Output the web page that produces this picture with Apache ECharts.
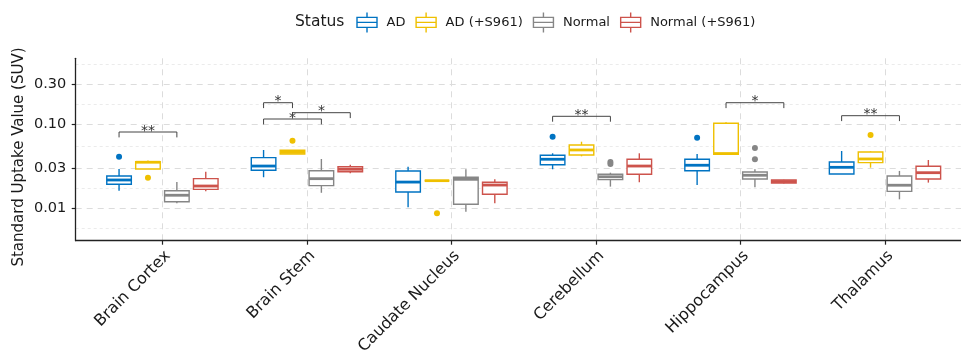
<!DOCTYPE html>
<html>
<head>
<meta charset="utf-8">
<script src="https://cdn.jsdelivr.net/npm/echarts@6/dist/echarts.min.js"></script>
<style>html,body{margin:0;padding:0;background:#fff}#c{width:961px;height:351px}</style>
</head>
<body>
<div id="c"></div>
<script>
// ---------- data ----------
const categories = ['Brain Cortex', 'Brain Stem', 'Caudate Nucleus', 'Cerebellum', 'Hippocampus', 'Thalamus'];
const statuses = ['AD', 'AD (+S961)', 'Normal', 'Normal (+S961)'];
const colors = ['#0073C2', '#EFC000', '#868686', '#CD534C'];
const yAxisTitle = 'Standard Uptake Value (SUV)';
const legendTitle = 'Status';

// [min, Q1, median, Q3, max] per category
const adStats = [
  [0.0161, 0.0192, 0.0216, 0.0241, 0.0292],
  [0.0233, 0.0282, 0.0317, 0.0399, 0.0493],
  [0.0102, 0.0155, 0.0204, 0.0277, 0.0311],
  [0.0290, 0.0329, 0.0382, 0.0426, 0.0450],
  [0.0188, 0.0279, 0.0324, 0.0382, 0.0441],
  [0.0255, 0.0255, 0.0306, 0.0354, 0.0479]
];
const adS961Stats = [
  [0.0292, 0.0292, 0.0352, 0.0357, 0.0369],
  [0.0441, 0.0441, 0.0462, 0.0489, 0.0489],
  [0.0212, 0.0212, 0.0212, 0.0212, 0.0212],
  [0.0414, 0.0429, 0.0493, 0.0565, 0.0619],
  [0.0438, 0.0438, 0.0447, 0.1026, 0.1055],
  [0.0303, 0.0348, 0.0385, 0.0466, 0.0475]
];
const normalStats = [
  [0.0114, 0.0119, 0.0142, 0.0161, 0.0204],
  [0.0152, 0.0185, 0.0224, 0.0279, 0.0385],
  [0.0090, 0.0111, 0.0220, 0.0233, 0.0290],
  [0.0180, 0.0218, 0.0236, 0.0253, 0.0264],
  [0.0177, 0.0222, 0.0246, 0.0269, 0.0290],
  [0.0127, 0.0158, 0.0187, 0.0241, 0.0277]
];
const normalS961Stats = [
  [0.0158, 0.0167, 0.0183, 0.0224, 0.0271],
  [0.0260, 0.0271, 0.0290, 0.0311, 0.0329],
  [0.0114, 0.0146, 0.0188, 0.0203, 0.0220],
  [0.0203, 0.0253, 0.0317, 0.0382, 0.0450],
  [0.0196, 0.0199, 0.0207, 0.0216, 0.0218],
  [0.0201, 0.0222, 0.0264, 0.0315, 0.0374]
];
// outliers: [categoryIndex, value]
const adOutliers = [[0, 0.0410], [3, 0.0710], [4, 0.0691]];
const adS961Outliers = [[0, 0.0230], [1, 0.0636], [2, 0.00864], [5, 0.0744]];
const normalOutliers = [[3, 0.0354], [3, 0.0335], [4, 0.0521], [4, 0.0382]];
const normalS961Outliers = [];

// significance brackets
const bracketCat = [0, 1, 1, 1, 3, 4, 5];
const bracketFrom = [0, 0, 0, 1, 0, 1, 0];
const bracketTo = [2, 1, 2, 3, 2, 3, 2];
const bracketY = [0.0808, 0.1808, 0.1155, 0.1374, 0.1244, 0.1808, 0.1265];
const bracketLabel = ['**', '*', '*', '*', '**', '*', '**'];

// y axis ticks
const yTickValues = [0.01, 0.03, 0.1, 0.3];
const yTickLabels = ['0.01', '0.03', '0.10', '0.30'];
const yMin = 0.00407, yMax = 0.613;

// ---------- build ----------
const allStats = [adStats, adS961Stats, normalStats, normalS961Stats];
const allOutliers = [adOutliers, adS961Outliers, normalOutliers, normalS961Outliers];
const DODGE = 0.2;
const dodge = statuses.map((s, k) => (k - (statuses.length - 1) / 2) * DODGE);
const BOX_W = 0.17;
const LW = 1.4, MED_LW = 2.8;
const FONT = '"DejaVu Sans", sans-serif';

const logMajor = yTickValues.map(v => Math.log10(v));
const logMinor = [];
for (let i = 0; i < logMajor.length - 1; i++) logMinor.push((logMajor[i] + logMajor[i + 1]) / 2);
logMinor.unshift(logMajor[0] - (logMinor[0] - logMajor[0]));
logMinor.push(logMajor[logMajor.length - 1] + (logMajor[logMajor.length - 1] - logMinor[logMinor.length - 1]));
const logLo = Math.log10(yMin), logHi = Math.log10(yMax);
const catPos = categories.map((c, i) => i + 1);

function boxRenderer(color) {
  return function (params, api) {
    const x = api.value(0);
    const p = [1, 2, 3, 4, 5].map(i => api.coord([x, api.value(i)]));
    const half = api.size([BOX_W, 0], [x, 0.1])[0] / 2;
    const cx = p[0][0];
    return {
      type: 'group',
      children: [
        { type: 'line', shape: { x1: cx, y1: p[4][1], x2: cx, y2: p[3][1] }, style: { stroke: color, lineWidth: LW } },
        { type: 'line', shape: { x1: cx, y1: p[1][1], x2: cx, y2: p[0][1] }, style: { stroke: color, lineWidth: LW } },
        { type: 'rect', shape: { x: cx - half, y: p[3][1], width: 2 * half, height: p[1][1] - p[3][1] }, style: { fill: '#fff', stroke: color, lineWidth: LW } },
        { type: 'line', shape: { x1: cx - half, y1: p[2][1], x2: cx + half, y2: p[2][1] }, style: { stroke: color, lineWidth: MED_LW } }
      ]
    };
  };
}

const series = [];
statuses.forEach((name, k) => {
  series.push({
    name: name, type: 'custom', xAxisIndex: 0, yAxisIndex: 0,
    itemStyle: { color: colors[k] },
    renderItem: boxRenderer(colors[k]),
    encode: { x: 0, y: [1, 2, 3, 4, 5] },
    data: allStats[k].map((s, c) => [c + 1 + dodge[k]].concat(s)),
    z: 3
  });
  series.push({
    name: name, type: 'scatter', xAxisIndex: 0, yAxisIndex: 0,
    symbol: 'circle', symbolSize: 6,
    itemStyle: { color: colors[k], opacity: 1 },
    data: allOutliers[k].map(o => [o[0] + 1 + dodge[k], o[1]]),
    z: 4
  });
});
series.push({
  type: 'custom', xAxisIndex: 0, yAxisIndex: 0,
  encode: { x: [0, 1], y: 2 },
  data: bracketCat.map((c, i) => [c + 1 + dodge[bracketFrom[i]], c + 1 + dodge[bracketTo[i]], bracketY[i], i]),
  renderItem: function (params, api) {
    const a = api.coord([api.value(0), api.value(2)]);
    const b = api.coord([api.value(1), api.value(2)]);
    const TIP = 5.4;
    return {
      type: 'group',
      children: [
        { type: 'polyline', shape: { points: [[a[0], a[1] + TIP], [a[0], a[1]], [b[0], b[1]], [b[0], b[1] + TIP]] }, style: { stroke: '#444', lineWidth: 1, fill: null } },
        { type: 'text', x: (a[0] + b[0]) / 2, y: a[1] - 1, style: { text: bracketLabel[api.value(3)], align: 'center', verticalAlign: 'middle', fontSize: 14, fontFamily: FONT, fill: '#333' } }
      ]
    };
  },
  z: 5
});

const boxIcon = 'path://M10,0L10,5M0,5L20,5L20,15L0,15ZM0,10L20,10M10,15L10,20';

const option = {
  animation: false,
  backgroundColor: '#fff',
  textStyle: { fontFamily: FONT },
  title: {
    text: legendTitle, left: 290, top: 8.5,
    textStyle: { fontSize: 15.5, fontWeight: 'normal', color: '#1a1a1a', fontFamily: FONT }
  },
  legend: {
    left: 351.3, top: 6.7, itemWidth: 29, itemHeight: 20, itemGap: 10,
    symbolKeepAspect: true,
    textStyle: { fontSize: 13, color: '#1a1a1a', fontFamily: FONT },
    data: statuses.map((s, k) => ({
      name: s, icon: boxIcon,
      itemStyle: { color: 'rgba(0,0,0,0)', borderColor: colors[k], borderWidth: 1.4 }
    }))
  },
  graphic: [{
    type: 'text', x: 19, y: 157, rotation: Math.PI / 2, silent: true,
    style: { text: yAxisTitle, align: 'center', verticalAlign: 'middle', fontSize: 15, fontFamily: FONT, fill: '#1a1a1a' }
  }],
  grid: { left: 75.7, top: 58.3, width: 896, height: 182.4, containLabel: false, outerBoundsMode: 'none' },
  xAxis: [{
    type: 'value', min: 0.4, max: 6.6, position: 'bottom',
    axisLine: { show: true, lineStyle: { color: '#222', width: 1.3 } },
    axisTick: { show: true, customValues: catPos, length: 4, lineStyle: { color: '#222', width: 1.2 } },
    axisLabel: {
      customValues: catPos, rotate: 45, align: 'right', verticalAlign: 'top', margin: 7,
      fontSize: 16, color: '#1a1a1a', fontFamily: FONT,
      formatter: v => categories[Math.round(v) - 1]
    },
    splitLine: { show: true, lineStyle: { color: '#dcdcdc', width: 1, type: [6, 5] } }
  }],
  yAxis: [{
    type: 'log', min: yMin, max: yMax, show: false
  }, {
    type: 'value', min: logLo, max: logHi, position: 'left',
    axisLine: { show: true, lineStyle: { color: '#222', width: 1.3 } },
    axisTick: { show: true, customValues: logMajor, length: 4, lineStyle: { color: '#222', width: 1.2 } },
    axisLabel: {
      customValues: logMajor, margin: 9.5, fontSize: 14.5, color: '#1a1a1a', fontFamily: FONT,
      formatter: v => { const i = logMajor.findIndex(t => Math.abs(t - v) < 1e-6); return i >= 0 ? yTickLabels[i] : ''; }
    },
    splitLine: { show: true, lineStyle: { color: '#dcdcdc', width: 1, type: [6, 5] } }
  }, {
    type: 'value', min: logLo, max: logHi, position: 'right',
    axisLine: { show: false },
    axisTick: { show: false, customValues: logMinor },
    axisLabel: { show: false, customValues: logMinor },
    splitLine: { show: true, lineStyle: { color: '#e6e6e6', width: 0.8, type: [3, 3] } }
  }],
  series: series
};

const chart = echarts.init(document.getElementById('c'), null, { renderer: 'canvas' });
chart.setOption(option);
</script>
</body>
</html>
